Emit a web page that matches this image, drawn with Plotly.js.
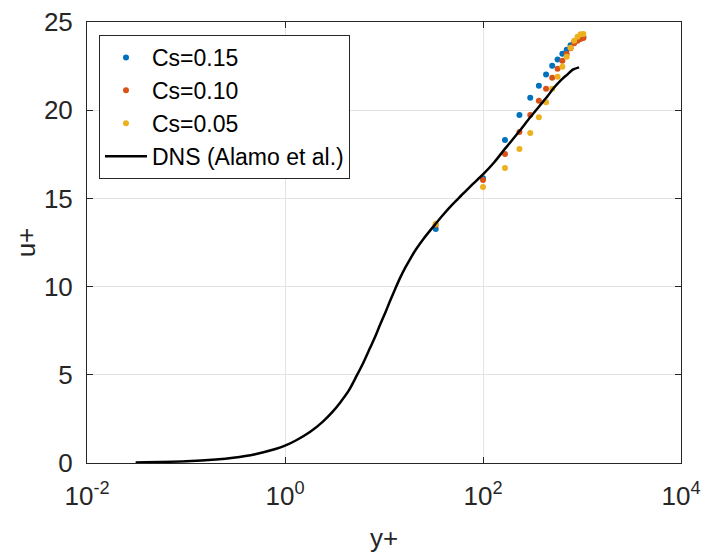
<!DOCTYPE html>
<html>
<head>
<meta charset="utf-8">
<script src="https://cdn.plot.ly/plotly-3.0.1.min.js"></script>
<style>body{margin:0;padding:0;background:#fff}</style>
</head>
<body>
<div id="chart" style="width:706px;height:553px"></div>
<script>
// LES sample locations (y+)
const yPlus = [33.3, 100, 166.7, 233.3, 300, 366.7, 433.3, 500, 566.7, 633.3, 700, 766.7, 833.3, 900, 966.7, 1033];
// u+ for each Smagorinsky constant
const uCs015 = [13.26, 16.14, 18.31, 19.73, 20.70, 21.38, 22.03, 22.52, 22.88, 23.20, 23.43, 23.68, 23.85, 24.00, 24.10, 24.15];
const uCs010 = [13.50, 16.04, 17.52, 18.77, 19.73, 20.53, 21.21, 21.84, 22.35, 22.80, 23.18, 23.51, 23.79, 23.94, 24.04, 24.10];
const uCs005 = [13.56, 15.64, 16.72, 17.80, 18.71, 19.60, 20.45, 21.21, 21.89, 22.46, 23.03, 23.54, 23.94, 24.17, 24.30, 24.32];
// DNS reference profile (Alamo et al.)
const dnsY = [0.031, 0.1, 0.2, 0.3, 0.5, 0.8, 1.0, 1.3, 1.8, 2.4, 3.0, 3.6, 4.4, 5.3, 6.2, 7.2, 8.2, 9.1, 10.3, 11.5, 13, 14.5, 16.5, 18.3, 21, 25, 31.5, 40, 50, 60, 75, 100, 130, 167, 200, 237, 300, 377, 450, 513, 600, 700, 817, 934];
const dnsU = [0.031, 0.1, 0.2, 0.3, 0.5, 0.79, 0.98, 1.29, 1.77, 2.33, 2.88, 3.42, 4.1, 4.95, 5.7, 6.5, 7.2, 7.82, 8.52, 9.18, 9.88, 10.48, 11.1, 11.55, 12.1, 12.7, 13.4, 14.1, 14.7, 15.15, 15.7, 16.36, 17.05, 17.82, 18.35, 18.86, 19.6, 20.28, 20.8, 21.23, 21.65, 21.99, 22.31, 22.43];
const xTickVals = [0.01, 1, 100, 10000];
const xTickText = ['10<sup>-2</sup>', '10<sup>0</sup>', '10<sup>2</sup>', '10<sup>4</sup>'];
const yTickVals = [0, 5, 10, 15, 20, 25];

const font = 'Liberation Sans, Arial, Helvetica, sans-serif';
const mk = (name, y, color) => ({
  x: yPlus, y: y, name: name, type: 'scatter', mode: 'markers',
  marker: {color: color, size: 6}, legendgroup: name
});
const traces = [
  mk('Cs=0.15', uCs015, '#0072BD'),
  mk('Cs=0.10', uCs010, '#D95319'),
  mk('Cs=0.05', uCs005, '#EDB120'),
  {x: dnsY, y: dnsU, name: 'DNS (Alamo et al.)', type: 'scatter', mode: 'lines',
   line: {color: '#000', width: 2.5, shape: 'spline', smoothing: 0.8}, legendgroup: 'dns'}
];
const layout = {
  width: 706, height: 553,
  margin: {l: 87, r: 25, t: 22, b: 90},
  paper_bgcolor: '#fff', plot_bgcolor: '#fff',
  font: {family: font, color: '#262626', size: 26},
  showlegend: true,
  legend: {x: 0.0202, y: 0.9705, xanchor: 'left', yanchor: 'top',
    bgcolor: '#fff', bordercolor: '#262626', borderwidth: 1,
    font: {size: 23, color: '#000'}, tracegroupgap: 0, itemsizing: 'trace', itemwidth: 42,
    entrywidth: 270, entrywidthmode: 'pixels'},
  xaxis: {type: 'log', range: [-2, 4], tickvals: xTickVals, ticktext: xTickText,
    ticks: 'inside', ticklen: 6, tickcolor: '#262626', showline: true, linecolor: '#262626',
    linewidth: 1, mirror: 'allticks', showgrid: true, gridcolor: '#e3e3e3', zeroline: false,
    tickfont: {size: 26}, ticklabelstandoff: 10,
    title: {text: 'y+', font: {size: 26}, standoff: 19}},
  yaxis: {range: [0, 25], tickvals: yTickVals, ticks: 'inside', ticklen: 6, tickcolor: '#262626',
    showline: true, linecolor: '#262626', linewidth: 1, mirror: 'allticks', showgrid: true,
    gridcolor: '#e3e3e3', zeroline: false, tickfont: {size: 26}, ticklabelstandoff: 8,
    title: {text: 'u+', font: {size: 26}, standoff: 0}}
};
Plotly.newPlot('chart', traces, layout, {displayModeBar: false, staticPlot: true});
</script>
</body>
</html>
